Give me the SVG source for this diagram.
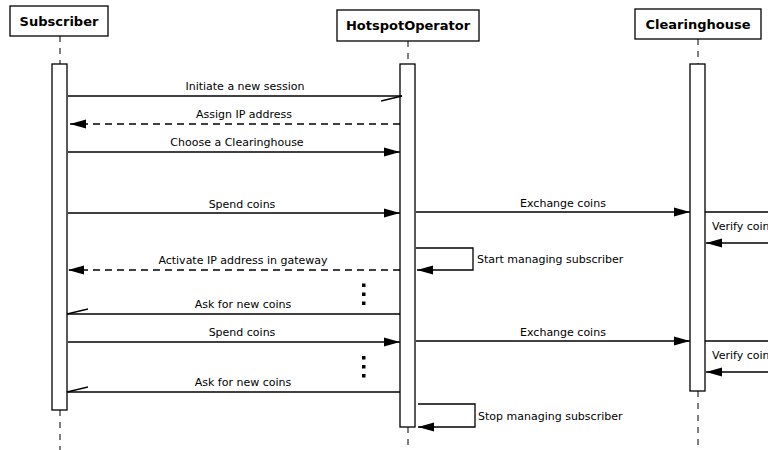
<svg xmlns="http://www.w3.org/2000/svg" width="768" height="450" viewBox="0 0 768 450">
<style>
.box{fill:#fff;stroke:#000;stroke-width:1.3}
.act{fill:#fff;stroke:#000;stroke-width:1.3}
.life{stroke:#000;stroke-width:1;stroke-dasharray:6 6;fill:none}
.msg{stroke:#000;stroke-width:1.3;fill:none}
.dash{stroke-dasharray:7 5}
.title{font-family:"DejaVu Sans",sans-serif;font-weight:bold;font-size:13px;text-anchor:middle}
.lbl{font-family:"DejaVu Sans",sans-serif;font-size:11px;fill:#000}
.mid{text-anchor:middle}
</style>
<defs>
<marker id="fill" markerWidth="17" markerHeight="10" refX="16" refY="5" orient="auto" markerUnits="userSpaceOnUse">
<path d="M0,0.5 L16,5 L0,9.5 Z" fill="#000"/>
</marker>
<marker id="half" markerWidth="22" markerHeight="12" refX="21" refY="5" orient="auto" markerUnits="userSpaceOnUse">
<path d="M0,10 L21,5" stroke="#000" stroke-width="1.3" fill="none"/>
</marker>
</defs>

<g id="lifelines">
<line class="life" x1="60" y1="36" x2="60" y2="64"/>
<line class="life" x1="60" y1="410" x2="60" y2="450"/>
<line class="life" x1="408" y1="41" x2="408" y2="64"/>
<line class="life" x1="408" y1="427" x2="408" y2="450"/>
<line class="life" x1="698" y1="39" x2="698" y2="64"/>
<line class="life" x1="698" y1="391" x2="698" y2="450"/>
</g>

<g id="subscriber">
<rect class="box" x="10" y="6" width="98" height="30"/>
<text class="title" x="59" y="26">Subscriber</text>
<rect class="act" x="52" y="64" width="15" height="346"/>
</g>

<g id="hotspotoperator">
<rect class="box" x="337" y="10" width="142" height="31"/>
<text class="title" x="408" y="30">HotspotOperator</text>
<rect class="act" x="400" y="64" width="15" height="363"/>
</g>

<g id="clearinghouse">
<rect class="box" x="635" y="9" width="126" height="30"/>
<text class="title" x="698" y="29">Clearinghouse</text>
<rect class="act" x="690" y="64" width="15" height="327"/>
</g>

<g id="connectors">
<line class="msg" x1="68" y1="96" x2="402" y2="96" marker-end="url(#half)"/>
<text class="lbl mid" x="245" y="90">Initiate a new session</text>

<line class="msg dash" x1="400" y1="124" x2="70" y2="124" marker-end="url(#fill)"/>
<text class="lbl mid" x="244" y="118">Assign IP address</text>

<line class="msg" x1="68" y1="152" x2="400" y2="152" marker-end="url(#fill)"/>
<text class="lbl mid" x="237" y="146">Choose a Clearinghouse</text>

<line class="msg" x1="68" y1="213" x2="400" y2="213" marker-end="url(#fill)"/>
<text class="lbl mid" x="242" y="208">Spend coins</text>

<line class="msg" x1="416" y1="212" x2="690" y2="212" marker-end="url(#fill)"/>
<text class="lbl mid" x="563" y="207">Exchange coins</text>

<line class="msg" x1="705" y1="212" x2="780" y2="212"/>
<line class="msg" x1="780" y1="243" x2="706" y2="243" marker-end="url(#fill)"/>
<text class="lbl" x="712" y="230">Verify coins</text>

<polyline class="msg" points="416,248 473,248 473,270 417,270" marker-end="url(#fill)"/>
<text class="lbl" x="477" y="263">Start managing subscriber</text>

<line class="msg dash" x1="400" y1="270" x2="68" y2="270" marker-end="url(#fill)"/>
<text class="lbl mid" x="243" y="264">Activate IP address in gateway</text>

<rect x="362" y="283.5" width="3.5" height="3.5"/>
<rect x="362" y="292.5" width="3.5" height="3.5"/>
<rect x="362" y="301.5" width="3.5" height="3.5"/>

<line class="msg" x1="400" y1="314" x2="67" y2="314" marker-end="url(#half)"/>
<text class="lbl mid" x="243" y="308">Ask for new coins</text>

<line class="msg" x1="68" y1="342" x2="400" y2="342" marker-end="url(#fill)"/>
<text class="lbl mid" x="242" y="336">Spend coins</text>

<line class="msg" x1="416" y1="341" x2="690" y2="341" marker-end="url(#fill)"/>
<text class="lbl mid" x="563" y="336">Exchange coins</text>

<line class="msg" x1="705" y1="341" x2="780" y2="341"/>
<line class="msg" x1="780" y1="372" x2="706" y2="372" marker-end="url(#fill)"/>
<text class="lbl" x="712" y="359">Verify coins</text>

<rect x="362" y="356" width="3.5" height="3.5"/>
<rect x="362" y="365" width="3.5" height="3.5"/>
<rect x="362" y="374" width="3.5" height="3.5"/>

<line class="msg" x1="400" y1="392" x2="67" y2="392" marker-end="url(#half)"/>
<text class="lbl mid" x="243" y="386">Ask for new coins</text>

<polyline class="msg" points="418,404 475,404 475,427 418,427" marker-end="url(#fill)"/>
<text class="lbl" x="478" y="420">Stop managing subscriber</text>
</g>
</svg>
